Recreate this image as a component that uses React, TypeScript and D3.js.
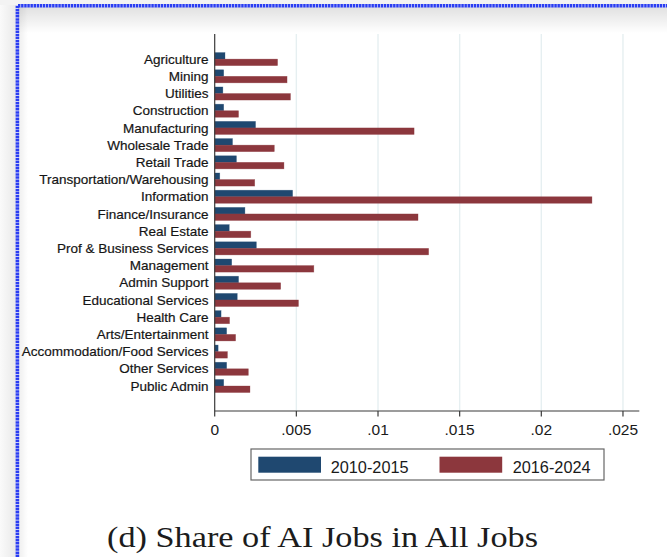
import React from "react";
import * as d3 from "d3";

const categories = [
  "Agriculture",
  "Mining",
  "Utilities",
  "Construction",
  "Manufacturing",
  "Wholesale Trade",
  "Retail Trade",
  "Transportation/Warehousing",
  "Information",
  "Finance/Insurance",
  "Real Estate",
  "Prof & Business Services",
  "Management",
  "Admin Support",
  "Educational Services",
  "Health Care",
  "Arts/Entertainment",
  "Accommodation/Food Services",
  "Other Services",
  "Public Admin",
];

const share2010_2015 = [
  0.00063, 0.00055, 0.0005, 0.00055, 0.0025, 0.00109, 0.00133, 0.00031, 0.00477,
  0.00185, 0.00089, 0.00255, 0.00104, 0.00146, 0.00138, 0.00039, 0.00073, 0.00021,
  0.00073, 0.00055,
];

const share2016_2024 = [
  0.00385, 0.00443, 0.00464, 0.00146, 0.01221, 0.00365, 0.00424, 0.00245, 0.0231,
  0.01245, 0.00221, 0.0131, 0.00607, 0.00404, 0.00513, 0.00091, 0.00128, 0.00078,
  0.00206, 0.00216,
];

const seriesNames = ["2010-2015", "2016-2024"];
const seriesColors = ["#1f4870", "#8c373d"];
const tickValues = [0, 0.005, 0.01, 0.015, 0.02, 0.025];
const tickLabels = ["0", ".005", ".01", ".015", ".02", ".025"];
const title = "(d) Share of AI Jobs in All Jobs";

const W = 667;
const H = 557;

export default function App() {
  const plotTop = 34;
  const plotBottom = 411;
  const x = d3.scaleLinear().domain([0, 0.026]).range([214.7, 639.3]);
  const y = d3
    .scaleBand<string>()
    .domain(categories)
    .range([50.5, 394.6])
    .paddingInner(0.24)
    .paddingOuter(0.12);
  const sub = d3
    .scaleBand<string>()
    .domain(seriesNames)
    .range([0, y.bandwidth()])
    .padding(0);
  const series = [share2010_2015, share2016_2024];
  const sansFont = "'Liberation Sans', Arial, Helvetica, sans-serif";

  return (
    <svg
      width={W}
      height={H}
      viewBox={`0 0 ${W} ${H}`}
      style={{ position: "absolute", left: 0, top: 0, display: "block" }}
    >
      <defs>
        <linearGradient id="topShadow" x1="0" y1="0" x2="0" y2="1">
          <stop offset="0" stopColor="#000" stopOpacity="0.12" />
          <stop offset="1" stopColor="#000" stopOpacity="0" />
        </linearGradient>
        <linearGradient id="leftShadow" x1="0" y1="0" x2="1" y2="0">
          <stop offset="0" stopColor="#000" stopOpacity="0.07" />
          <stop offset="1" stopColor="#000" stopOpacity="0" />
        </linearGradient>
        <linearGradient id="outerLeft" x1="0" y1="0" x2="1" y2="0">
          <stop offset="0" stopColor="#fafafa" />
          <stop offset="1" stopColor="#e9e9e9" />
        </linearGradient>
      </defs>
      <rect x={0} y={0} width={W} height={H} fill="#fff" />
      {/* outer frame area */}
      <rect x={0} y={0} width={16} height={H} fill="url(#outerLeft)" />
      <rect x={0} y={0} width={W} height={5} fill="#f3f3f3" />
      {/* inner shadows */}
      <rect x={18} y={7} width={W - 18} height={26} fill="url(#topShadow)" />
      <rect x={18} y={7} width={10} height={H - 7} fill="url(#leftShadow)" />
      {/* blue frame */}
      <path
        d={`M17.4,${H} L17.4,5.8 L${W},5.8`}
        fill="none"
        stroke="#2a3df2"
        strokeWidth={3.6}
        strokeDasharray="2.5 0.6"
      />

      {/* grid lines */}
      {tickValues.slice(1).map((t) => (
        <line
          key={"g" + t}
          x1={x(t)}
          x2={x(t)}
          y1={plotTop}
          y2={plotBottom}
          stroke="#e6eff1"
          strokeWidth={1.4}
        />
      ))}

      {/* bars */}
      {categories.map((c, i) =>
        series.map((vals, s) => (
          <rect
            key={c + s}
            x={x(0)}
            y={(y(c) as number) + (sub(seriesNames[s]) as number)}
            width={x(vals[i]) - x(0)}
            height={sub.bandwidth()}
            fill={seriesColors[s]}
            stroke={seriesColors[s]}
            strokeOpacity={0.5}
            strokeWidth={0.6}
          />
        ))
      )}

      {/* axes */}
      <line x1={x(0)} x2={x(0)} y1={plotTop} y2={plotBottom} stroke="#3a3a3a" strokeWidth={1.2} />
      <line x1={x(0)} x2={x(0.026)} y1={plotBottom} y2={plotBottom} stroke="#3a3a3a" strokeWidth={1.2} />
      {tickValues.map((t, i) => (
        <g key={"t" + t}>
          <line x1={x(t)} x2={x(t)} y1={plotBottom} y2={plotBottom + 5.5} stroke="#3a3a3a" strokeWidth={1.2} />
          <text
            x={x(t)}
            y={435}
            textAnchor="middle"
            fontFamily={sansFont}
            fontSize={15.5}
            fill="#1a1a1a"
          >
            {tickLabels[i]}
          </text>
        </g>
      ))}

      {/* category labels */}
      {categories.map((c) => (
        <text
          key={"l" + c}
          x={208.5}
          y={(y(c) as number) + y.bandwidth() / 2 + 4.7}
          textAnchor="end"
          fontFamily={sansFont}
          fontSize={13.5}
          fill="#151515"
          stroke="#151515"
          strokeWidth={0.2}
        >
          {c}
        </text>
      ))}

      {/* legend */}
      <rect x={251} y={449} width={353} height={31} fill="#fff" stroke="#666" strokeWidth={1.2} />
      <rect x={258.3} y={456.7} width={62.7} height={16} fill={seriesColors[0]} />
      <text x={330.7} y={472.5} fontFamily={sansFont} fontSize={16.3} fill="#1a1a1a">
        {seriesNames[0]}
      </text>
      <rect x={439.5} y={456.7} width={62.7} height={16} fill={seriesColors[1]} />
      <text x={512.7} y={472.5} fontFamily={sansFont} fontSize={16.3} fill="#1a1a1a">
        {seriesNames[1]}
      </text>

      {/* title */}
      <text
        x={107}
        y={547}
        fontFamily="'Liberation Serif', 'Times New Roman', serif"
        fontSize={30}
        fill="#1c1c1c"
        textLength={431}
        lengthAdjust="spacingAndGlyphs"
      >
        {title}
      </text>
    </svg>
  );
}
